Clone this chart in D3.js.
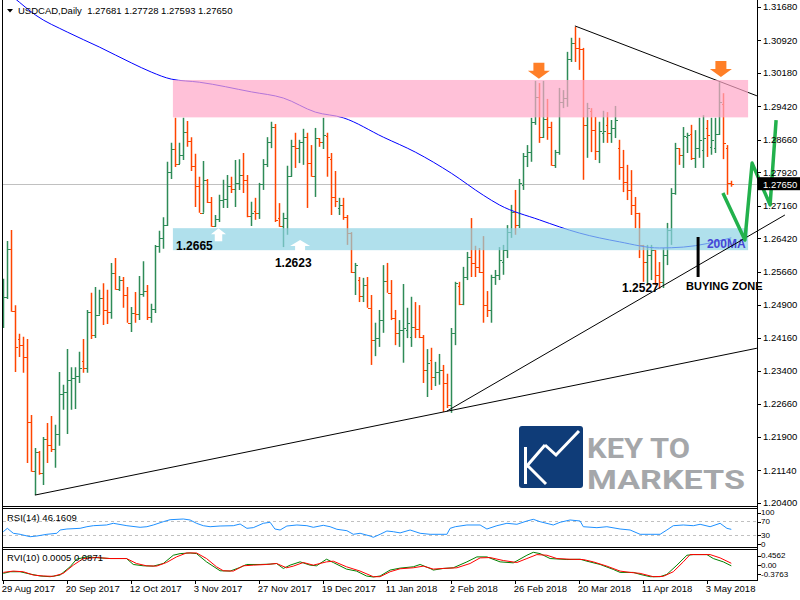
<!DOCTYPE html>
<html>
<head>
<meta charset="utf-8">
<script src="https://cdnjs.cloudflare.com/ajax/libs/d3/7.8.5/d3.min.js"></script>
<style>
body { margin: 0; background: #fff; }
svg { display: block; font-family: "Liberation Sans", Arial, sans-serif; }
</style>
</head>
<body>
<svg id="chart" width="800" height="600"></svg>
<script>
// USDCAD daily bars, 29 Aug 2017 .. 11 May 2018
const dateLabels = ['29 Aug 2017', '20 Sep 2017', '12 Oct 2017', '3 Nov 2017', '27 Nov 2017', '19 Dec 2017',
    '11 Jan 2018', '2 Feb 2018', '26 Feb 2018', '20 Mar 2018', '11 Apr 2018', '3 May 2018']
const dateIdx = [0, 16, 32, 48, 64, 80, 96, 112, 128, 144, 160, 176]

const priceTicks = [1.3168, 1.3092, 1.3018, 1.2942, 1.2866, 1.2792, 1.2716, 1.2642,
    1.2566, 1.2490, 1.2416, 1.2340, 1.2266, 1.2190, 1.2114, 1.2040]

const open = [1.2479,1.2509,1.2618,1.2477,1.2413,1.2399,1.2372,1.2224,1.2113,1.2156,
    1.2108,1.2186,1.2172,1.2163,1.2197,1.2288,1.2293,1.2320,1.2324,1.2329,
    1.2363,1.2347,1.2475,1.2422,1.2468,1.2506,1.2479,1.2475,1.2563,1.2527,
    1.2547,1.2513,1.2450,1.2472,1.2470,1.2515,1.2522,1.2463,1.2481,1.2625,
    1.2643,1.2672,1.2793,1.2845,1.2811,1.2832,1.2884,1.2863,1.2807,1.2761,
    1.2700,1.2775,1.2725,1.2670,1.2686,1.2729,1.2731,1.2761,1.2754,1.2768,
    1.2786,1.2775,1.2693,1.2704,1.2700,1.2766,1.2811,1.2861,1.2895,1.2688,
    1.2670,1.2688,1.2784,1.2852,1.2847,1.2861,1.2872,1.2813,1.2784,1.2870,
    1.2861,1.2875,1.2822,1.2736,1.2711,1.2718,1.2690,1.2654,1.2565,1.2547,
    1.2511,1.2536,1.2484,1.2411,1.2415,1.2456,1.2545,1.2518,1.2461,1.2427,
    1.2434,1.2434,1.2418,1.2440,1.2436,1.2418,1.2343,1.2365,1.2327,1.2338,
    1.2343,1.2313,1.2263,1.2427,1.2534,1.2493,1.2554,1.2600,1.2586,1.2577,
    1.2565,1.2490,1.2479,1.2554,1.2559,1.2588,1.2615,1.2656,1.2702,1.2672,
    1.2763,1.2829,1.2838,1.2907,1.2963,1.2872,1.2913,1.2895,1.2809,1.2838,
    1.2952,1.2961,1.3050,1.3086,1.3075,1.3073,1.2900,1.2932,1.2888,1.2841,
    1.2882,1.2900,1.2882,1.2893,1.2847,1.2804,1.2770,1.2752,1.2718,1.2700,
    1.2627,1.2588,1.2604,1.2615,1.2559,1.2543,1.2604,1.2661,1.2745,1.2847,
    1.2832,1.2872,1.2879,1.2825,1.2847,1.2843,1.2893,1.2850,1.2847,1.2879,
    1.2947,1.2847,1.27681]

const high = [1.2550,1.2636,1.2661,1.2490,1.2425,1.2418,1.2413,1.2240,1.2165,1.2158,
    1.2190,1.2222,1.2238,1.2218,1.2338,1.2309,1.2390,1.2349,1.2349,1.2384,
    1.2413,1.2479,1.2518,1.2531,1.2525,1.2540,1.2525,1.2586,1.2597,1.2556,
    1.2554,1.2531,1.2486,1.2520,1.2556,1.2590,1.2536,1.2493,1.2627,1.2659,
    1.2690,1.2816,1.2859,1.2916,1.2859,1.2916,1.2909,1.2872,1.2834,1.2782,
    1.2818,1.2777,1.2736,1.2695,1.2741,1.2775,1.2786,1.2782,1.2820,1.2822,
    1.2836,1.2786,1.2725,1.2734,1.2768,1.2822,1.2872,1.2907,1.2902,1.2722,
    1.2700,1.2807,1.2866,1.2882,1.2866,1.2891,1.2882,1.2854,1.2893,1.2870,
    1.2916,1.2882,1.2836,1.2795,1.2734,1.2734,1.2695,1.2656,1.2586,1.2554,
    1.2552,1.2554,1.2513,1.2450,1.2479,1.2581,1.2586,1.2547,1.2479,1.2456,
    1.2538,1.2484,1.2509,1.2497,1.2490,1.2422,1.2390,1.2393,1.2361,1.2379,
    1.2354,1.2334,1.2438,1.2543,1.2543,1.2577,1.2611,1.2688,1.2625,1.2620,
    1.2647,1.2522,1.2559,1.2570,1.2622,1.2627,1.2672,1.2718,1.2752,1.2777,
    1.2836,1.2854,1.2916,1.3000,1.2995,1.3000,1.2959,1.2907,1.2843,1.2984,
    1.2979,1.3066,1.3098,1.3123,1.3098,1.3075,1.2950,1.2938,1.2918,1.2907,
    1.2932,1.2929,1.2911,1.2943,1.2866,1.2843,1.2809,1.2797,1.2736,1.2700,
    1.2627,1.2627,1.2627,1.2615,1.2588,1.2620,1.2677,1.2756,1.2859,1.2847,
    1.2895,1.2882,1.2900,1.2888,1.2916,1.2922,1.2911,1.2916,1.2916,1.2997,
    1.2972,1.2854,1.27728]

const low = [1.2438,1.2504,1.2475,1.2338,1.2372,1.2336,1.2131,1.2111,1.2058,1.2104,
    1.2081,1.2131,1.2156,1.2120,1.2170,1.2252,1.2197,1.2252,1.2254,1.2313,
    1.2336,1.2336,1.2413,1.2415,1.2468,1.2445,1.2447,1.2459,1.2525,1.2522,
    1.2484,1.2450,1.2429,1.2450,1.2456,1.2509,1.2456,1.2450,1.2472,1.2609,
    1.2618,1.2670,1.2777,1.2804,1.2811,1.2820,1.2850,1.2795,1.2713,1.2700,
    1.2700,1.2722,1.2668,1.2668,1.2679,1.2711,1.2711,1.2745,1.2713,1.2752,
    1.2745,1.2690,1.2670,1.2684,1.2686,1.2752,1.2804,1.2847,1.2679,1.2668,
    1.2622,1.2650,1.2782,1.2802,1.2813,1.2809,1.2711,1.2782,1.2736,1.2850,
    1.2845,1.2782,1.2695,1.2713,1.2695,1.2684,1.2627,1.2563,1.2513,1.2497,
    1.2497,1.2484,1.2354,1.2374,1.2395,1.2427,1.2518,1.2456,1.2399,1.2395,
    1.2359,1.2415,1.2395,1.2415,1.2415,1.2313,1.2281,1.2297,1.2306,1.2309,
    1.2247,1.2256,1.2245,1.2399,1.2490,1.2490,1.2547,1.2554,1.2554,1.2563,
    1.2450,1.2463,1.2450,1.2536,1.2547,1.2559,1.2597,1.2643,1.2650,1.2665,
    1.2752,1.2804,1.2816,1.2900,1.2859,1.2870,1.2866,1.2807,1.2802,1.2832,
    1.2938,1.2941,1.3043,1.3043,1.3025,1.2775,1.2825,1.2838,1.2820,1.2813,
    1.2859,1.2859,1.2859,1.2870,1.2775,1.2747,1.2729,1.2695,1.2665,1.2597,
    1.2543,1.2536,1.2547,1.2536,1.2527,1.2529,1.2581,1.2627,1.2741,1.2809,
    1.2802,1.2836,1.2820,1.2802,1.2825,1.2802,1.2827,1.2832,1.2836,1.2877,
    1.2822,1.2741,1.27593]

const close = [1.2509,1.2618,1.2477,1.2395,1.2399,1.2372,1.2224,1.2113,1.2156,1.2108,
    1.2186,1.2172,1.2163,1.2197,1.2288,1.2293,1.2320,1.2324,1.2329,1.2347,
    1.2347,1.2475,1.2422,1.2468,1.2506,1.2479,1.2475,1.2563,1.2527,1.2547,
    1.2513,1.2450,1.2472,1.2470,1.2515,1.2522,1.2463,1.2481,1.2625,1.2643,
    1.2672,1.2793,1.2845,1.2811,1.2832,1.2884,1.2863,1.2807,1.2761,1.2700,
    1.2775,1.2725,1.2670,1.2686,1.2729,1.2731,1.2761,1.2754,1.2768,1.2786,
    1.2775,1.2693,1.2700,1.2700,1.2766,1.2811,1.2861,1.2895,1.2684,1.2670,
    1.2688,1.2784,1.2852,1.2847,1.2861,1.2872,1.2813,1.2784,1.2870,1.2861,
    1.2877,1.2827,1.2736,1.2727,1.2718,1.2690,1.2654,1.2565,1.2581,1.2511,
    1.2536,1.2484,1.2411,1.2415,1.2456,1.2545,1.2518,1.2461,1.2427,1.2434,
    1.2438,1.2450,1.2440,1.2436,1.2418,1.2343,1.2359,1.2327,1.2338,1.2343,
    1.2313,1.2263,1.2427,1.2540,1.2493,1.2554,1.2600,1.2586,1.2577,1.2565,
    1.2490,1.2479,1.2554,1.2559,1.2593,1.2615,1.2656,1.2702,1.2672,1.2768,
    1.2829,1.2838,1.2907,1.2963,1.2872,1.2913,1.2895,1.2809,1.2838,1.2952,
    1.2961,1.3050,1.3086,1.3075,1.3073,1.2900,1.2938,1.2888,1.2841,1.2886,
    1.2886,1.2882,1.2893,1.2911,1.2804,1.2770,1.2752,1.2718,1.2700,1.2627,
    1.2588,1.2604,1.2615,1.2559,1.2543,1.2604,1.2661,1.2745,1.2847,1.2832,
    1.2875,1.2877,1.2825,1.2847,1.2866,1.2870,1.2877,1.2866,1.2879,1.2952,
    1.2859,1.2768,1.27650]

// 200-day moving average, [bar, price]
const ma200 = [[0,1.3210],[4,1.3179],[8,1.3150],[16,1.3111],[24,1.3077],[32,1.3041],[37,1.3020],
    [42,1.3004],[49,1.2997],[62,1.2975],[70,1.2961],[78,1.2929],[85,1.2916],[95,1.2872],
    [103,1.2838],[112,1.2790],[120,1.2740],[124,1.2718],[134,1.2684],[144,1.2654],
    [154,1.2634],[164,1.2620],[170,1.2622],[182,1.2643]]

// RSI(14), [bar, value]
const rsi = [[0,39.4],[1,49.1],[2.5,34.9],[4.2,32],[6.7,25.1],[8.4,27.1],[10.9,32],[13.4,34.9],
    [14.2,44.3],[15.9,47.1],[19.2,49.1],[20.9,53.7],[22.5,56.6],[25.8,58.6],[27.5,63.4],
    [30.9,56.6],[34.2,52],[35.9,53.7],[37.5,58.6],[40,68],[41.7,73.7],[45,75.7],[46.7,72.9],
    [48.3,63.4],[50,56.6],[51.7,53.7],[54.2,55.7],[57.5,56.6],[59.2,61.4],[60.9,49.1],
    [62.5,51],[65,63.4],[66.7,66.3],[67.9,47.1],[69.2,44.3],[70.9,55.7],[73.4,58.6],
    [75.9,56.6],[77.5,52],[80,57.7],[81.7,53.7],[83.4,46.3],[85.9,42.3],[87.5,32],
    [89.2,34.9],[91.7,27.1],[92.5,23.4],[94.2,32],[95.9,41.4],[97.5,39.4],[99.2,36],
    [101.7,44.3],[104.2,34.9],[106.7,32],[110.9,32],[111.7,49.1],[113,53.7],[115.9,58.6],
    [119.2,58.6],[120.9,47.1],[123.4,56.6],[125.9,63.4],[128.4,60.6],[130.9,70],[132.5,74.8],
    [134.2,68],[137.5,58.6],[139.2,66.3],[141.7,72.9],[144.2,70],[145,53.7],[148.4,50.9],
    [150.9,53.7],[154.2,47.1],[156.7,44.3],[159.2,32],[161.7,32],[164.2,32],[165.9,44.3],
    [167.5,56.6],[170,58.6],[172.5,56.6],[174.2,60.6],[176.7,53.7],[179.2,63.4],[180.9,49.1],
    [182,46.16]]

// RVI(10) main and signal, [bar, value]
const rviMain = [[0,-0.254],[1.7,-0.199],[4.2,-0.199],[6.7,-0.277],[9.2,-0.343],[11.7,-0.366],
    [14.2,-0.310],[16.7,-0.032],[18.3,0.223],[20.8,0.301],[24.2,0.268],[26.7,0.246],[30.8,0.246],
    [32.5,0.046],[35,0.001],[37.5,-0.010],[40,0.079],[42.5,0.357],[44.2,0.412],[46.7,0.434],
    [48.3,0.412],[50.8,0.134],[54.2,-0.166],[56.7,-0.177],[59.2,-0.054],[60.8,0.046],[64.2,0.046],
    [66.7,0.057],[68.3,0.079],[70,-0.088],[71.7,0.023],[74.2,0.134],[76.7,0.023],[78.3,0.001],
    [80.8,0.223],[82.5,0.112],[85.8,-0.110],[88.3,-0.177],[90.8,-0.343],[92.5,-0.376],[94.2,-0.343],
    [96.7,-0.143],[99.2,-0.077],[102.5,-0.032],[104.2,0.046],[106.7,-0.088],[107.5,-0.143],
    [110,-0.088],[112.5,-0.066],[115.9,0.134],[118.4,0.301],[120.9,0.301],[124.2,0.134],
    [127.5,0.101],[130.9,0.357],[132.5,0.456],[134.2,0.412],[136.7,0.246],[140.9,0.212],
    [144.2,0.223],[145.9,0.157],[149.2,0.046],[152.5,-0.121],[154.2,-0.221],[157.5,-0.221],
    [159.2,-0.288],[161.7,-0.366],[164.2,-0.366],[165.9,-0.288],[168.4,0.023],[170.9,0.357],
    [172.5,0.379],[175.9,0.379],[177.5,0.246],[180,0.134],[182,0.0005]]
const rviSignal = [[0,-0.221],[2.5,-0.177],[5,-0.199],[7.5,-0.310],[10,-0.343],[12.5,-0.354],
    [15,-0.254],[17.5,0.023],[20,0.246],[23.3,0.279],[26.7,0.246],[30.8,0.246],[33.3,0.079],
    [35.8,0.001],[38.3,-0.010],[40.8,0.112],[43.3,0.301],[45.8,0.434],[48.3,0.434],[50.8,0.246],
    [53.3,-0.032],[55,-0.166],[57.5,-0.177],[60,0.001],[62.5,0.023],[65.8,0.046],[68.3,0.079],
    [70.8,-0.066],[72.5,-0.010],[75,0.112],[77.5,0.023],[80.8,0.134],[82.5,0.157],[85.8,-0.032],
    [89.2,-0.177],[92.5,-0.366],[94.2,-0.366],[96.7,-0.199],[99.2,-0.099],[102.5,-0.066],
    [105,-0.010],[107.5,-0.110],[110,-0.088],[113.4,-0.066],[116.7,0.079],[119.2,0.268],
    [121.7,0.279],[125,0.179],[128.4,0.112],[130.9,0.246],[133.4,0.379],[135.9,0.357],
    [138.4,0.246],[141.7,0.223],[145,0.212],[147.5,0.134],[150.9,-0.010],[154.2,-0.177],
    [156.7,-0.221],[159.2,-0.254],[162.5,-0.366],[165,-0.354],[167.5,-0.199],[170,0.134],
    [171.7,0.379],[174.2,0.379],[176.7,0.379],[179.2,0.268],[182,0.0871]]

// drawn objects: zones [fromBar, toBar, top, bottom], trend lines [bar, price, bar, price]
const zones = [[42.4, 186.2, 1.3002, 1.2917, '#ffa6c7'], [42.4, 186.2, 1.2665, 1.2615, '#8ed3e4']]
const trendLines = [[7.9, 1.2058, 188.4, 1.2392, true], [110.9, 1.2249, 195.4, 1.2695, false],
    [142.9, 1.3125, 188.4, 1.2966, true]]
const levelLabels = [['1.2665', 43.2, 1.2615], ['1.2623', 67.9, 1.2577], ['1.2527', 154.7, 1.2520]]
const upArrows = [[53.8, 1.2665, 15], [74.2, 1.2638, 20]]
const downArrows = [[133.9, 1.3041], [179.4, 1.3045]]
const zigzag = [[179.9, 1.2745], [185.4, 1.2638], [187.2, 1.2813], [191.7, 1.2718], [193.2, 1.2911]]
const lastPrice = 1.2765

const upColor = '#2e8b57', downColor = '#ff4500'

const svg = d3.select('#chart')
const x = d3.scaleLinear().domain([0, 188]).range([3.3, 755.3])
const y = d3.scaleLinear().domain([1.2040, 1.3168]).range([503, 7])
const yRsi = d3.scaleLinear().domain([0, 100]).range([545.5, 510.5])
const yRvi = d3.scaleLinear().domain([-0.3763, 0.4562]).range([577, 552.3])
const bx = i => Math.round(x(i)) + 0.5

svg.append('rect').attr('width', 800).attr('height', 600).attr('fill', '#fff')

const defs = svg.append('defs')
defs.append('clipPath').attr('id', 'mainClip').append('rect')
    .attr('x', 2.5).attr('y', 0).attr('width', 754.5).attr('height', 506)
defs.append('clipPath').attr('id', 'rsiClip').append('rect')
    .attr('x', 2.5).attr('y', 509).attr('width', 754.5).attr('height', 38)
defs.append('clipPath').attr('id', 'rviClip').append('rect')
    .attr('x', 2.5).attr('y', 549.5).attr('width', 754.5).attr('height', 30.5)

const main = svg.append('g').attr('clip-path', 'url(#mainClip)')

// current price line
main.append('line')
    .attr('x1', 2).attr('x2', 757)
    .attr('y1', Math.round(y(lastPrice)) + 0.5).attr('y2', Math.round(y(lastPrice)) + 0.5)
    .attr('stroke', '#c0c0c0').attr('stroke-width', 1)

// OHLC bars
const bars = d3.range(close.length).map(i => ({i: i, o: open[i], h: high[i], l: low[i], c: close[i]}))
const barG = main.append('g')
barG.selectAll('line.hl').data(bars).join('line')
    .attr('x1', d => bx(d.i)).attr('x2', d => bx(d.i))
    .attr('y1', d => y(d.h)).attr('y2', d => y(d.l))
    .attr('stroke', d => d.c >= d.o ? upColor : downColor).attr('stroke-width', 1.5)
barG.selectAll('line.op').data(bars).join('line')
    .attr('x1', d => bx(d.i) - 2).attr('x2', d => bx(d.i))
    .attr('y1', d => Math.round(y(d.o)) + 0.5).attr('y2', d => Math.round(y(d.o)) + 0.5)
    .attr('stroke', d => d.c >= d.o ? upColor : downColor).attr('shape-rendering', 'crispEdges')
barG.selectAll('line.cl').data(bars).join('line')
    .attr('x1', d => bx(d.i)).attr('x2', d => bx(d.i) + 2)
    .attr('y1', d => Math.round(y(d.c)) + 0.5).attr('y2', d => Math.round(y(d.c)) + 0.5)
    .attr('stroke', d => d.c >= d.o ? upColor : downColor).attr('shape-rendering', 'crispEdges')

// 200 MA
main.append('path')
    .attr('d', d3.line().x(d => x(d[0])).y(d => y(d[1])).curve(d3.curveMonotoneX)(ma200))
    .attr('fill', 'none').attr('stroke', '#0000ff').attr('stroke-width', 1)

// trend lines
trendLines.forEach(t => {
    (t[4] ? main : svg).append('line')
        .attr('x1', x(t[0])).attr('y1', y(t[1])).attr('x2', x(t[2])).attr('y2', y(t[3]))
        .attr('stroke', '#000').attr('stroke-width', 1)
})

// zones
zones.forEach(z => {
    main.append('rect')
        .attr('x', x(z[0])).attr('width', x(z[1]) - x(z[0]))
        .attr('y', y(z[2])).attr('height', y(z[3]) - y(z[2]))
        .attr('fill', z[4]).attr('opacity', 0.7)
})

// arrows
upArrows.forEach(a => {
    const cx = x(a[0]), top = y(a[1]), w = a[2]
    main.append('path')
        .attr('d', `M${cx},${top} L${cx + w / 2},${top + 6} L${cx + w / 4},${top + 6} L${cx + w / 4},${top + 13}
            L${cx - w / 4},${top + 13} L${cx - w / 4},${top + 6} L${cx - w / 2},${top + 6} Z`)
        .attr('fill', '#fff')
})
downArrows.forEach(a => {
    const cx = x(a[0]), top = y(a[1])
    main.append('path')
        .attr('d', `M${cx - 5.5},${top} L${cx + 5.5},${top} L${cx + 5.5},${top + 8} L${cx + 11},${top + 8}
            L${cx},${top + 16} L${cx - 11},${top + 8} L${cx - 5.5},${top + 8} Z`)
        .attr('fill', '#ff7f27')
})

levelLabels.forEach(l => {
    main.append('text').attr('x', x(l[1])).attr('y', y(l[2]))
        .attr('font-size', 12).attr('font-weight', 'bold').attr('fill', '#000').text(l[0])
})
main.append('text').attr('x', x(175.9)).attr('y', y(1.2620))
    .attr('font-size', 12).attr('font-weight', 'bold').attr('fill', '#4646d6').text('200MA')
svg.append('text').attr('x', x(170.7)).attr('y', y(1.2525))
    .attr('font-size', 11).attr('font-weight', 'bold').attr('fill', '#000').text('BUYING ZONE')
main.append('line')
    .attr('x1', x(173.7)).attr('x2', x(173.7)).attr('y1', y(1.2645)).attr('y2', y(1.2554))
    .attr('stroke', '#000').attr('stroke-width', 3)

// logo
const logo = main.append('g')
logo.append('rect').attr('x', 519).attr('y', 426).attr('width', 64).attr('height', 62).attr('rx', 3).attr('fill', '#0f3c78')
logo.append('path')
    .attr('d', 'M525.5,447 L525.5,484 M526,467 L545,445 M528,466 L546,484 M545,445 L556,455 L579,431')
    .attr('fill', 'none').attr('stroke', '#fff').attr('stroke-width', 3)
logo.append('text').attr('x', 587).attr('y', 458).attr('font-family', 'Roboto').attr('font-weight', 'bold')
    .attr('font-size', 27).attr('textLength', 103).attr('lengthAdjust', 'spacingAndGlyphs')
    .attr('fill', '#a5a7aa').text('KEY TO')
logo.append('text').attr('x', 587).attr('y', 489).attr('font-family', 'Roboto').attr('font-weight', 'bold')
    .attr('font-size', 26).attr('textLength', 158).attr('lengthAdjust', 'spacingAndGlyphs')
    .attr('fill', '#a5a7aa').text('MARKETS')

// hand drawn green path
svg.append('path')
    .attr('d', d3.line().x(d => x(d[0])).y(d => y(d[1]))(zigzag))
    .attr('fill', 'none').attr('stroke', '#22b14c').attr('stroke-width', 3.5).attr('stroke-linejoin', 'round')

// header
svg.append('path').attr('d', 'M7,9 L13,9 L10,12.5 Z').attr('fill', '#000')
svg.append('text').attr('x', 18).attr('y', 14).attr('font-size', 9.5).attr('fill', '#000')
    .attr('xml:space', 'preserve').text('USDCAD,Daily  1.27681 1.27728 1.27593 1.27650')

// RSI panel
const rsiG = svg.append('g').attr('clip-path', 'url(#rsiClip)')
;[70, 30].forEach(v => {
    rsiG.append('line').attr('x1', 3).attr('x2', 757)
        .attr('y1', Math.round(yRsi(v)) + 0.5).attr('y2', Math.round(yRsi(v)) + 0.5)
        .attr('stroke', '#c0c0c0').attr('stroke-dasharray', '3,3')
})
rsiG.append('path')
    .attr('d', d3.line().x(d => x(d[0])).y(d => yRsi(d[1]))(rsi))
    .attr('fill', 'none').attr('stroke', '#1e90ff').attr('stroke-width', 1)
svg.append('text').attr('x', 7).attr('y', 521).attr('font-size', 9.5).attr('fill', '#000').text('RSI(14) 46.1609')

// RVI panel
const rviG = svg.append('g').attr('clip-path', 'url(#rviClip)')
rviG.append('path')
    .attr('d', d3.line().x(d => x(d[0])).y(d => yRvi(d[1]))(rviMain))
    .attr('fill', 'none').attr('stroke', '#008000').attr('stroke-width', 1)
rviG.append('path')
    .attr('d', d3.line().x(d => x(d[0])).y(d => yRvi(d[1]))(rviSignal))
    .attr('fill', 'none').attr('stroke', '#ff0000').attr('stroke-width', 1)
svg.append('text').attr('x', 7).attr('y', 561).attr('font-size', 9.5).attr('fill', '#000').text('RVI(10) 0.0005 0.0871')

// frames
const frame = svg.append('g').attr('stroke', '#000').attr('shape-rendering', 'crispEdges')
frame.append('line').attr('x1', 2.5).attr('x2', 2.5).attr('y1', 0).attr('y2', 581)
frame.append('line').attr('x1', 757.5).attr('x2', 757.5).attr('y1', 0).attr('y2', 581)
;[506.5, 508.5, 547.5, 549.5, 580.5].forEach(v => {
    frame.append('line').attr('x1', 2).attr('x2', 758).attr('y1', v).attr('y2', v)
})

// price axis
const axisG = svg.append('g').attr('font-size', 9.5).attr('fill', '#000')
priceTicks.forEach(p => {
    axisG.append('line').attr('x1', 757).attr('x2', 761)
        .attr('y1', Math.round(y(p)) + 0.5).attr('y2', Math.round(y(p)) + 0.5)
        .attr('stroke', '#000').attr('shape-rendering', 'crispEdges')
    axisG.append('text').attr('x', 763).attr('y', y(p)).attr('dy', '0.35em').text(p.toFixed(5))
})
axisG.append('rect').attr('x', 758).attr('y', y(lastPrice) - 7).attr('width', 42).attr('height', 13).attr('fill', '#000')
axisG.append('text').attr('x', 763).attr('y', y(lastPrice)).attr('dy', '0.35em').attr('fill', '#fff').text(lastPrice.toFixed(5))

// rsi / rvi axis labels, packed tight as in the original
const smallAxis = svg.append('g').attr('font-size', 8).attr('fill', '#000')
;[[100, 2], [70, 0.5], [30, 0], [0, -1.5]].forEach(r => {
    smallAxis.append('line').attr('x1', 757).attr('x2', 761)
        .attr('y1', Math.round(yRsi(r[0]) + r[1]) + 0.5).attr('y2', Math.round(yRsi(r[0]) + r[1]) + 0.5)
        .attr('stroke', '#000').attr('shape-rendering', 'crispEdges')
    smallAxis.append('text').attr('x', 761).attr('y', yRsi(r[0]) + r[1]).attr('dy', '0.35em').text(r[0])
})
;[[0.4562, 3.2, '0.4562'], [0, -1, '0.00'], [-0.3763, -3, '-0.3763']].forEach(r => {
    smallAxis.append('line').attr('x1', 757).attr('x2', 761)
        .attr('y1', Math.round(yRvi(r[0]) + r[1]) + 0.5).attr('y2', Math.round(yRvi(r[0]) + r[1]) + 0.5)
        .attr('stroke', '#000').attr('shape-rendering', 'crispEdges')
    smallAxis.append('text').attr('x', 761).attr('y', yRvi(r[0]) + r[1]).attr('dy', '0.35em').text(r[2])
})

// date axis
dateIdx.forEach((d, k) => {
    axisG.append('line').attr('x1', bx(d)).attr('x2', bx(d)).attr('y1', 580).attr('y2', 584)
        .attr('stroke', '#000').attr('shape-rendering', 'crispEdges')
    axisG.append('text').attr('x', x(d) - 1.5).attr('y', 592).text(dateLabels[k])
})
</script>
</body>
</html>
